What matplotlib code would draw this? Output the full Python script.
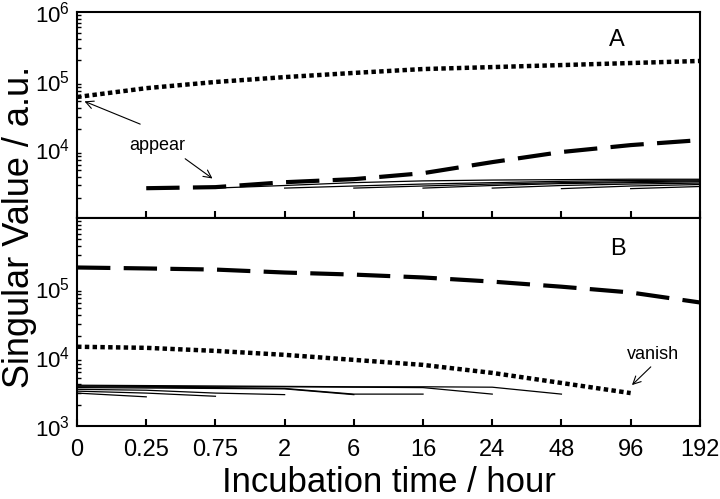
import matplotlib
matplotlib.use("Agg")
import matplotlib.pyplot as plt
from matplotlib.ticker import FixedLocator, LogLocator, NullFormatter, LogFormatterSciNotation

plt.rcParams['font.family'] = ['Liberation Sans', 'DejaVu Sans']
plt.rcParams['mathtext.fontset'] = 'custom'
plt.rcParams['mathtext.rm'] = 'Liberation Sans'
plt.rcParams['mathtext.it'] = 'Liberation Sans:italic'
plt.rcParams['mathtext.default'] = 'regular'

# ---- data ----
time_labels = ["0", "0.25", "0.75", "2", "6", "16", "24", "48", "96", "192"]

# Panel A
a_dotted = [5.8e4, 7.8e4, 9.6e4, 1.13e5, 1.30e5, 1.48e5, 1.58e5, 1.69e5, 1.81e5, 1.94e5]
a_dashed = [2.74e3, 2.84e3, 3.35e3, 3.71e3, 4.53e3, 6.56e3, 9.2e3, 1.16e4, 1.37e4]  # from 0.25 h
a_solid_starts = [2, 3, 4, 5, 6, 7, 8]
a_solid = [
    [2.75e3, 3.0e3, 3.3e3, 3.5e3, 3.6e3, 3.65e3, 3.7e3, 3.7e3],
    [2.75e3, 2.95e3, 3.15e3, 3.3e3, 3.45e3, 3.55e3, 3.6e3],
    [2.75e3, 2.95e3, 3.15e3, 3.3e3, 3.4e3, 3.5e3],
    [2.75e3, 3.0e3, 3.2e3, 3.3e3, 3.4e3],
    [2.75e3, 3.0e3, 3.15e3, 3.25e3],
    [2.7e3, 2.95e3, 3.1e3],
    [2.7e3, 2.9e3],
]

# Panel B
b_dashed = [1.95e5, 1.89e5, 1.82e5, 1.65e5, 1.54e5, 1.40e5, 1.22e5, 1.03e5, 8.5e4, 6.1e4]
b_dotted = [1.40e4, 1.35e4, 1.22e4, 1.07e4, 9.05e3, 7.66e3, 5.87e3, 4.2e3, 3.0e3]  # until 96 h
b_solid = [
    [3.0e3, 2.65e3],
    [3.2e3, 3.0e3, 2.7e3],
    [3.4e3, 3.3e3, 3.0e3, 2.85e3],
    [3.6e3, 3.55e3, 3.5e3, 3.45e3, 2.85e3],
    [3.7e3, 3.65e3, 3.6e3, 3.5e3, 2.9e3, 2.9e3],
    [3.8e3, 3.75e3, 3.7e3, 3.7e3, 3.65e3, 3.6e3, 2.9e3],
    [3.9e3, 3.85e3, 3.8e3, 3.75e3, 3.7e3, 3.7e3, 3.65e3, 2.9e3],
]

# ---- figure ----
fig = plt.figure(figsize=(7.2, 4.99), dpi=100)
axA = fig.add_axes([0.107, 0.5625, 0.865, 0.4135])
axB = fig.add_axes([0.107, 0.146, 0.865, 0.4165])

x_all = list(range(len(time_labels)))
dot_kw = dict(color='black', lw=3.2, dashes=(1.0, 0.75), dash_capstyle='butt')
dash_kw = dict(color='black', lw=3.0, dashes=(8, 3.2), dash_capstyle='butt')

# Panel A
axA.plot(x_all, a_dotted, **dot_kw)
axA.plot(x_all[1:], a_dashed, **dash_kw)
for s, vals in zip(a_solid_starts, a_solid):
    axA.plot(x_all[s:s + len(vals)], vals, color='black', lw=0.9)

# Panel B
axB.plot(x_all, b_dashed, **dash_kw)
axB.plot(x_all[:len(b_dotted)], b_dotted, **dot_kw)
for vals in b_solid:
    axB.plot(x_all[:len(vals)], vals, color='black', lw=0.9)

for ax in (axA, axB):
    ax.set_yscale('log')
    ax.set_ylim(1e3, 1e6)
    ax.set_xlim(0, 9)
    ax.set_xticks(x_all)
    for sp in ax.spines.values():
        sp.set_linewidth(1.5)
    ax.tick_params(axis='x', which='major', direction='in', length=5, width=1.5,
                   labelsize=17, top=False, bottom=True, pad=9)
    ax.tick_params(axis='y', which='major', direction='in', length=0, labelsize=16,
                   right=False, pad=5)
    ax.tick_params(axis='y', which='minor', direction='in', length=3, width=1.0, right=False)
    ax.yaxis.set_minor_locator(LogLocator(base=10, subs=range(2, 10)))
    ax.yaxis.set_minor_formatter(NullFormatter())
    ax.yaxis.set_major_formatter(LogFormatterSciNotation())

axA.yaxis.set_major_locator(FixedLocator([1e4, 1e5, 1e6]))
axB.yaxis.set_major_locator(FixedLocator([1e3, 1e4, 1e5]))
axA.yaxis.set_major_formatter(LogFormatterSciNotation())
axB.yaxis.set_major_formatter(LogFormatterSciNotation())

axB.set_xticklabels(time_labels)
axA.tick_params(axis='x', labelbottom=False)

axB.set_xlabel("Incubation time / hour", fontsize=25, labelpad=4)
fig.text(0.003, 0.545, "Singular Value / a.u.", rotation=90, fontsize=26,
         ha='left', va='center')

# Panel labels
axA.text(7.8, 3.9e5, "A", fontsize=17, ha='center', va='center')
axB.text(7.82, 3.55e5, "B", fontsize=17, ha='center', va='center')

arrow_kw = dict(arrowstyle='->', color='black', lw=0.8, mutation_scale=14)
axA.text(1.16, 1.16e4, "appear", fontsize=13, ha='center', va='center')
axA.annotate("", xy=(0.07, 5.2e4), xytext=(0.95, 2.26e4), arrowprops=arrow_kw)
axA.annotate("", xy=(1.99, 3.59e3), xytext=(1.53, 7.76e3), arrowprops=arrow_kw)

axB.text(8.32, 1.1e4, "vanish", fontsize=13, ha='center', va='center')
axB.annotate("", xy=(7.99, 3.67e3), xytext=(8.32, 7.65e3), arrowprops=arrow_kw)

fig.savefig("out.png", dpi=100)
